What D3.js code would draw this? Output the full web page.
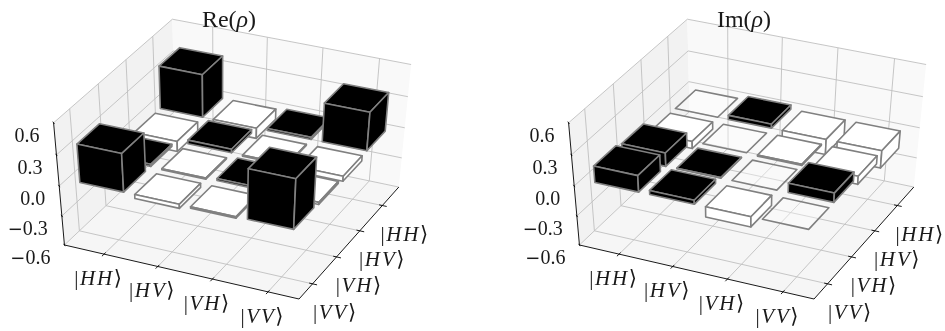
<!DOCTYPE html>
<html><head><meta charset="utf-8">
<script src="https://cdn.jsdelivr.net/npm/d3@7"></script>
<style>html,body{margin:0;padding:0;background:#fff}svg{display:block;filter:blur(0.35px)}text{font-family:"Liberation Serif",serif;fill:#1a1a1a}</style>
</head><body><svg id="c" width="945" height="331"></svg>
<script>
const kets = ["HH","HV","VH","VV"];
const zTicks = [-0.6,-0.3,0,0.3,0.6];
const titles = ["Re","Im"];
// rows: |HH> (back) ... |VV> (front); columns: |HH> ... |VV>
const reRho = [
  [ 0.41,-0.10, 0.02, 0.37],
  [-0.10, 0.035,-0.01,-0.05],
  [ 0.02,-0.01, 0.02,-0.02],
  [ 0.37,-0.04,-0.015,0.48]];
const imRho = [
  [ 0,    0.04,-0.15,-0.17],
  [-0.07, 0,   -0.01,-0.08],
  [ 0.13, 0.005,0,    0.09],
  [ 0.16, 0.04,-0.10, 0]];
const barWidth = 0.8;
const tickShift = 0.1;
// unit box corners -> pixels, used to fit the camera
const camera = [
  [0,0,0,65.3,244.3],[1,0,0,298.7,300],[1,1,0,399.5,185],
  [0,0,1,53,122.5],[0,1,1,173.3,18.3],[1,1,1,410.7,65.7],[0,1,0,174,142]];
const panelShift = 515;

function fitCamera(pts){
  const A=[],b=[];
  pts.forEach(([X,Y,Z,u,v])=>{
    A.push([X,Y,Z,1,0,0,0,0,-u*X,-u*Y,-u*Z]);b.push(u);
    A.push([0,0,0,0,X,Y,Z,1,-v*X,-v*Y,-v*Z]);b.push(v);
  });
  const n=11,M=d3.range(n).map(i=>d3.range(n+1).map(j=>
    d3.sum(A,(r,k)=>r[i]*(j<n?r[j]:b[k]))));
  for(let i=0;i<n;i++){
    let p=i;for(let r=i+1;r<n;r++)if(Math.abs(M[r][i])>Math.abs(M[p][i]))p=r;
    [M[i],M[p]]=[M[p],M[i]];
    for(let r=0;r<n;r++)if(r!==i){const f=M[r][i]/M[i][i];for(let c=i;c<=n;c++)M[r][c]-=f*M[i][c];}
  }
  return d3.range(n).map(i=>M[i][n]/M[i][i]);
}
const h=fitCamera(camera);
const sx=d3.scaleLinear().domain([-0.65,3.65]).range([0,1]);
const sy=d3.scaleLinear().domain([-0.65,3.65]).range([0,1]);
const sz=d3.scaleLinear().domain([-0.6,0.6]).range([0,1]);
const project=(x,y,z)=>{
  const X=sx(x),Y=sy(y),Z=sz(z),w=h[8]*X+h[9]*Y+h[10]*Z+1;
  return [(h[0]*X+h[1]*Y+h[2]*Z+h[3])/w,(h[4]*X+h[5]*Y+h[6]*Z+h[7])/w];
};
const line=d3.line();
const poly=pts=>line(pts)+"Z";
const [x0,x1]=sx.domain(),[y0,y1]=sy.domain(),[z0,z1]=sz.domain();
const svg=d3.select("#c");
function ket(sel,name){
  sel.append("tspan").text("|");
  sel.selectAll("tspan.l").data(name.split("")).join("tspan").attr("class","l")
    .attr("font-style","italic").attr("dx",(d,i)=>i?2:1.5).text(d=>d);
  sel.append("tspan").attr("dx",1.5).attr("font-family","DejaVu Sans").text("\u27E9");
}
function panel(idx,matrix,title){
  const g=svg.append("g").attr("transform",`translate(${idx*panelShift},0)`);
  const seg=(a,b,color,w)=>g.append("path").attr("d",line([a,b])).attr("stroke",color).attr("stroke-width",w).attr("fill","none");
  // panes
  const panes=[
    {f:"#f2f2f2",p:[[x0,y0,z0],[x0,y1,z0],[x0,y1,z1],[x0,y0,z1]]},
    {f:"#f9f9f9",p:[[x0,y1,z0],[x1,y1,z0],[x1,y1,z1],[x0,y1,z1]]},
    {f:"#f6f6f6",p:[[x0,y0,z0],[x1,y0,z0],[x1,y1,z0],[x0,y1,z0]]}];
  g.selectAll("path.pane").data(panes).join("path").attr("class","pane")
    .attr("d",d=>poly(d.p.map(c=>project(...c)))).attr("fill",d=>d.f);
  // grid
  const grid="#c0c0c0";
  kets.forEach((k,i)=>{
    const tx=i+tickShift, ty=3-i-tickShift;
    seg(project(tx,y0,z0),project(tx,y1,z0),grid,0.9);
    seg(project(tx,y1,z0),project(tx,y1,z1),grid,0.9);
    seg(project(x0,ty,z0),project(x1,ty,z0),grid,0.9);
    seg(project(x0,ty,z0),project(x0,ty,z1),grid,0.9);
  });
  zTicks.forEach(z=>{
    seg(project(x0,y0,z),project(x0,y1,z),grid,0.9);
    seg(project(x0,y1,z),project(x1,y1,z),grid,0.9);
  });
  // axes
  seg(project(x0,y0,z0),project(x1,y0,z0),"#000",0.9);
  seg(project(x1,y0,z0),project(x1,y1,z0),"#000",0.9);
  seg(project(x0,y0,z0),project(x0,y0,z1),"#000",0.9);
  kets.forEach((k,i)=>{
    const tx=i+tickShift, ty=3-i-tickShift;
    const t=project(tx,y0,z0);
    seg(project(tx,y0+0.06,z0),project(tx,y0-0.08,z0),"#000",0.9);
    g.append("text").attr("x",t[0]-6).attr("y",t[1]+31).attr("text-anchor","middle").attr("font-size",21).call(ket,k);
    const t2=project(x1,ty,z0);
    seg(project(x1-0.06,ty,z0),project(x1+0.08,ty,z0),"#000",0.9);
    g.append("text").attr("x",t2[0]+22).attr("y",t2[1]+35).attr("text-anchor","middle").attr("font-size",21).call(ket,k);
  });
  zTicks.forEach(z=>{
    const t=project(x0,y0,z);
    seg(project(x0+0.03,y0-0.03,z),project(x0-0.03,y0+0.03,z),"#000",0.9);
    const lab=g.append("text").attr("x",t[0]-14).attr("y",t[1]+19).attr("text-anchor","end").attr("font-size",20);
    if(z<0) lab.append("tspan").attr("font-family","DejaVu Sans").attr("font-size",18).text("\u2212");
    lab.append("tspan").text(d3.format(".1f")(Math.abs(z)));
  });
  // bars, back to front
  const half=barWidth/2;
  matrix.forEach((row,ri)=>{
    const y=3-ri;
    row.forEach((v,x)=>{
      const lo=Math.min(0,v),hi=Math.max(0,v);
      const fill=v>0?"#000":v<0?"#fff":"rgba(255,255,255,0.35)";
      const a=x-half,b=x+half,c=y-half,e=y+half;
      const faces=[[[a,c,hi],[b,c,hi],[b,e,hi],[a,e,hi]]];
      if(v!==0){
        faces.push([[a,c,lo],[b,c,lo],[b,c,hi],[a,c,hi]]);
        faces.push([[b,c,lo],[b,e,lo],[b,e,hi],[b,c,hi]]);
      }
      g.append("g").selectAll("path").data(faces).join("path")
        .attr("d",f=>poly(f.map(p=>project(...p))))
        .attr("fill",fill).attr("stroke","#808080").attr("stroke-width",1.6).attr("stroke-linejoin","round");
    });
  });
  // title
  const t=g.append("text").attr("x",229).attr("y",27).attr("text-anchor","middle").attr("font-size",24);
  t.append("tspan").text(title+"(");
  t.append("tspan").attr("font-style","italic").text("\u03C1");
  t.append("tspan").text(")");
}
panel(0,reRho,titles[0]);
panel(1,imRho,titles[1]);
</script></body></html>
